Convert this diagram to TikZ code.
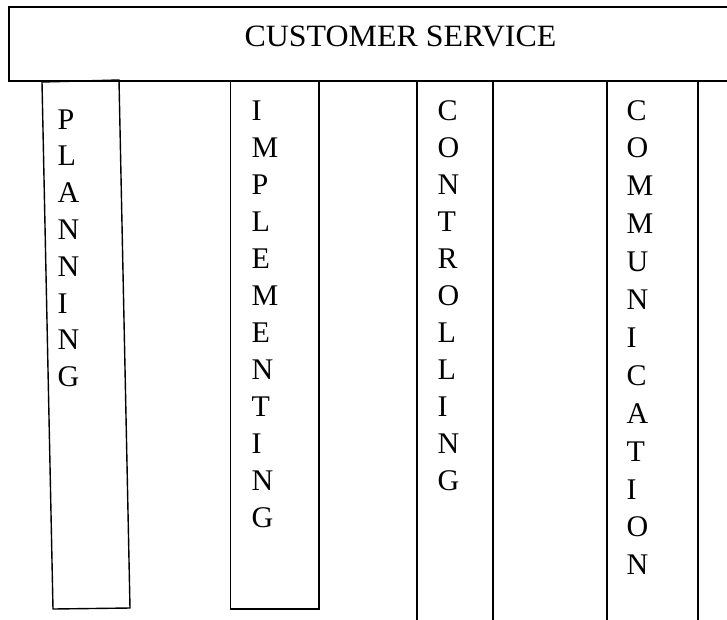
\documentclass[tikz,border=0pt]{standalone}
\usepackage{fontspec}
\setmainfont{Liberation Serif}
\begin{document}
\begin{tikzpicture}[x=1pt,y=-1pt,
  frame/.style={draw=black,line width=1.4pt},
  letter/.style={inner sep=0pt,anchor=base west,font=\fontsize{30}{36}\selectfont},
  titletext/.style={inner sep=0pt,anchor=base,font=\fontsize{31}{36}\selectfont,xscale=1.03}]
\useasboundingbox (0,0) rectangle (727,619);
\clip (0,0) rectangle (727,619);
% top banner
\draw[frame] (9,7) rectangle (745,81);
\node[titletext] (title) at (400.5,46) {CUSTOMER SERVICE};
% planning (slightly tilted box)
\draw[frame] (42,82) -- (119,80) -- (130,608) -- (53,609) -- cycle;
% implementing
\draw[frame] (230.5,81) rectangle (319,609);
% controlling
\draw[frame] (417,81) -- (417,630);
\draw[frame] (493,81) -- (493,630);
% communication
\draw[frame] (607,81) -- (607,630);
\draw[frame] (698,81) -- (698,630);
% letters
\foreach \ch [count=\i] in {P,L,A,N,N,I,N,G}
  \node[letter] (pl\i) at (57.5,{129+36.8*(\i-1)}) {\ch};
\foreach \ch [count=\i] in {I,M,P,L,E,M,E,N,T,I,N,G}
  \node[letter] (im\i) at (251.5,{120+37*(\i-1)}) {\ch};
\foreach \ch [count=\i] in {C,O,N,T,R,O,L,L,I,N,G}
  \node[letter] (co\i) at (437.5,{120+37*(\i-1)}) {\ch};
\foreach \ch [count=\i] in {C,O,M,M,U,N,I,C,A,T,I,O,N}
  \node[letter] (cm\i) at (626.5,{120+37.9*(\i-1)}) {\ch};
\end{tikzpicture}
\end{document}
